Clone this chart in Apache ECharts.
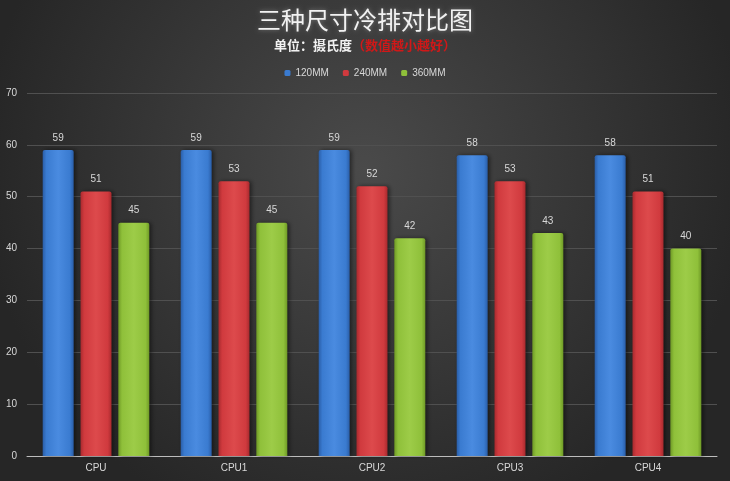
<!DOCTYPE html>
<html><head><meta charset="utf-8">
<script src="https://cdn.jsdelivr.net/npm/echarts@6/dist/echarts.min.js"></script>
<style>html,body{margin:0;padding:0;}#c{width:730px;height:481px;}</style>
</head><body><div id="c"></div>
<script>
const categories = ['CPU', 'CPU1', 'CPU2', 'CPU3', 'CPU4'];
const seriesNames = ['120MM', '240MM', '360MM'];
const values120 = [59, 59, 59, 58, 58];
const values240 = [51, 53, 52, 53, 51];
const values360 = [45, 45, 42, 43, 40];
const yTicks = [0, 10, 20, 30, 40, 50, 60, 70];

const chart = echarts.init(document.getElementById('c'));
function grad(dark, mid, light) {
  return new echarts.graphic.LinearGradient(0, 0, 1, 0, [
    {offset: 0, color: dark}, {offset: 0.12, color: mid}, {offset: 0.5, color: light},
    {offset: 0.88, color: mid}, {offset: 1, color: dark}
  ]);
}
const colors = [
  grad('#2a5ea8', '#3a7bd0', '#4a8be0'),
  grad('#a82a2e', '#d03a3e', '#dd4a4c'),
  grad('#6f9a26', '#8fc03a', '#9dcc48')
];
const legendColors = ['#3a7bd0', '#d03a3e', '#8fc03a'];
const data = [values120, values240, values360];
chart.setOption({
  backgroundColor: new echarts.graphic.RadialGradient(0.5, 0.35, 0.8, [
    {offset: 0, color: '#4a4a4a'}, {offset: 1, color: '#262626'}
  ]),
  title: [{
    text: '三种尺寸冷排对比图', left: 'center', top: 3,
    textStyle: {color: '#f2f2f2', fontSize: 24, fontWeight: 'normal', fontFamily: 'Noto Sans CJK SC',
      textShadowColor: 'rgba(255,255,255,0.35)', textShadowBlur: 4}
  }, {
    text: '{a|单位：摄氏度}{b|（数值越小越好）}', left: 'center', top: 34,
    textStyle: {rich: {
      a: {color: '#f2f2f2', fontSize: 13, fontWeight: 'bold', fontFamily: 'Noto Sans CJK SC'},
      b: {color: '#d01818', fontSize: 13, fontWeight: 'bold', fontFamily: 'Noto Sans CJK SC'}
    }}
  }],
  legend: {
    top: 63, left: 'center', itemWidth: 6, itemHeight: 6, itemGap: 14,
    textStyle: {color: '#d8d8d8', fontSize: 10, fontFamily: 'Liberation Sans'},
    data: seriesNames.map((n, i) => ({name: n, itemStyle: {color: legendColors[i]}}))
  },
  grid: {left: 27, right: 13, top: 93, bottom: 25, containLabel: false},
  xAxis: {
    type: 'category', data: categories,
    axisLine: {lineStyle: {color: '#bdbdbd', width: 1}},
    axisTick: {show: false},
    axisLabel: {color: '#d8d8d8', fontSize: 10, margin: 7, fontFamily: 'Liberation Sans'}
  },
  yAxis: {
    type: 'value', min: yTicks[0], max: yTicks[yTicks.length - 1], interval: 10,
    axisLine: {show: false}, axisTick: {show: false},
    axisLabel: {color: '#d8d8d8', fontSize: 10, margin: 10, fontFamily: 'Liberation Sans'},
    splitLine: {lineStyle: {color: '#505050', width: 1}}
  },
  series: seriesNames.map((n, i) => ({
    name: n, type: 'bar', data: data[i],
    barWidth: 31, barGap: '22%',
    itemStyle: {color: colors[i], borderRadius: [2, 2, 0, 0], shadowColor: 'rgba(0,0,0,0.5)', shadowBlur: 4, shadowOffsetX: 2},
    label: {show: true, position: 'top', distance: 7, color: '#d8d8d8', fontSize: 10, fontFamily: 'Liberation Sans'}
  }))
});
</script></body></html>
